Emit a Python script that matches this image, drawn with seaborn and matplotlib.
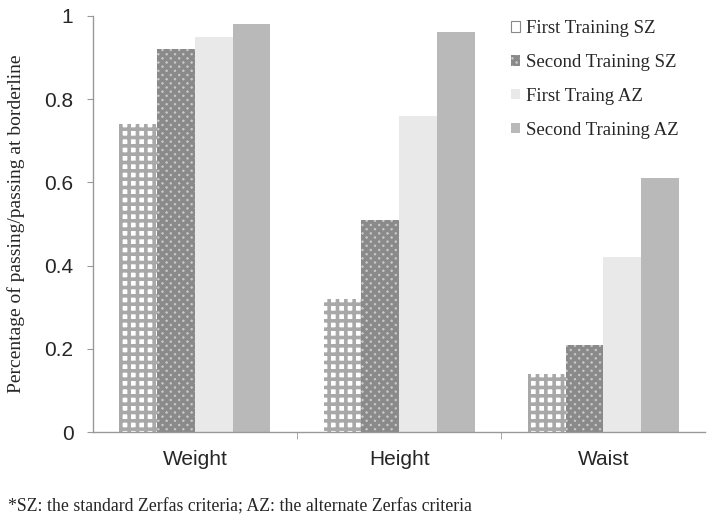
import pandas as pd
import numpy as np
import seaborn as sns
import matplotlib.pyplot as plt
from matplotlib.patches import Patch

categories = ['Weight', 'Height', 'Waist']
series = ['First Training SZ', 'Second Training SZ', 'First Traing AZ', 'Second Training AZ']
first_sz = [0.74, 0.32, 0.14]
second_sz = [0.92, 0.51, 0.21]
first_az = [0.95, 0.76, 0.42]
second_az = [0.98, 0.96, 0.61]
yticks = [0, 0.2, 0.4, 0.6, 0.8, 1]
ytick_labels = ['0', '0.2', '0.4', '0.6', '0.8', '1']

rows = []
for name, vals in zip(series, [first_sz, second_sz, first_az, second_az]):
    for c, v in zip(categories, vals):
        rows.append({'category': c, 'series': name, 'value': v})
df = pd.DataFrame(rows)

sns.set_style('white')
plt.rcParams['hatch.linewidth'] = 2.6

faces = ['white', '#c8c8c8', '#e9e9e9', '#b9b9b9']
hatches = ['++', 'xxxx', None, None]
hatch_cols = ['#a8a8a8', '#8a8a8a', '#e9e9e9', '#b9b9b9']

fig = plt.figure(figsize=(7.14, 5.27), dpi=100)
ax = fig.add_axes([0.130, 0.180, 0.858, 0.790])

sns.barplot(data=df, x='category', y='value', hue='series', order=categories,
            hue_order=series, width=0.74, palette=faces, legend=False, ax=ax,
            saturation=1, edgecolor='none')

for i, cont in enumerate(ax.containers):
    for bar in cont:
        bar.set_facecolor(faces[i])
        bar.set_hatch(hatches[i])
        bar.set_edgecolor(hatch_cols[i])
        bar.set_linewidth(0)

ax.set_ylim(0, 1)
ax.set_xlim(-0.5, 2.5)
ax.set_yticks(yticks)
ax.set_yticklabels(ytick_labels, fontsize=15, family='Liberation Sans')
ax.set_xticks([0, 1, 2])
ax.set_xticklabels(categories, fontsize=15, family='Liberation Sans')
ax.tick_params(axis='x', length=0, pad=13)
ax.tick_params(axis='y', length=4, color='#999999', left=True, pad=10)
# small ticks between the groups
ax.set_xticks([0.5, 1.5], minor=True)
ax.tick_params(axis='x', which='minor', length=5, color='#999999', bottom=True)

ax.set_xlabel('')
ax.set_ylabel('Percentage of passing/passing at borderline', family='Liberation Serif',
              fontsize=14, labelpad=14)

for s in ['top', 'right']:
    ax.spines[s].set_visible(False)
for s in ['left', 'bottom']:
    ax.spines[s].set_color('#999999')
    ax.spines[s].set_linewidth(1)

handles = [Patch(facecolor=faces[i], hatch=hatches[i], edgecolor=hatch_cols[i], linewidth=0)
           for i in range(4)]
handles[0] = Patch(facecolor='white', edgecolor='#888888', linewidth=0.8)
ax.legend(handles, series, loc='upper left', frameon=False,
          prop={'family': 'Liberation Serif', 'size': 13.5},
          handlelength=0.5, handleheight=0.5, handletextpad=0.35,
          labelspacing=0.9, borderpad=0, borderaxespad=0,
          bbox_to_anchor=(0.715, 0.962), bbox_transform=fig.transFigure)

fig.text(0.011, 0.022, '*SZ: the standard Zerfas criteria; AZ: the alternate Zerfas criteria',
         family='Liberation Serif', fontsize=12.8, va='bottom', ha='left')

fig.savefig('out.png', dpi=100)
